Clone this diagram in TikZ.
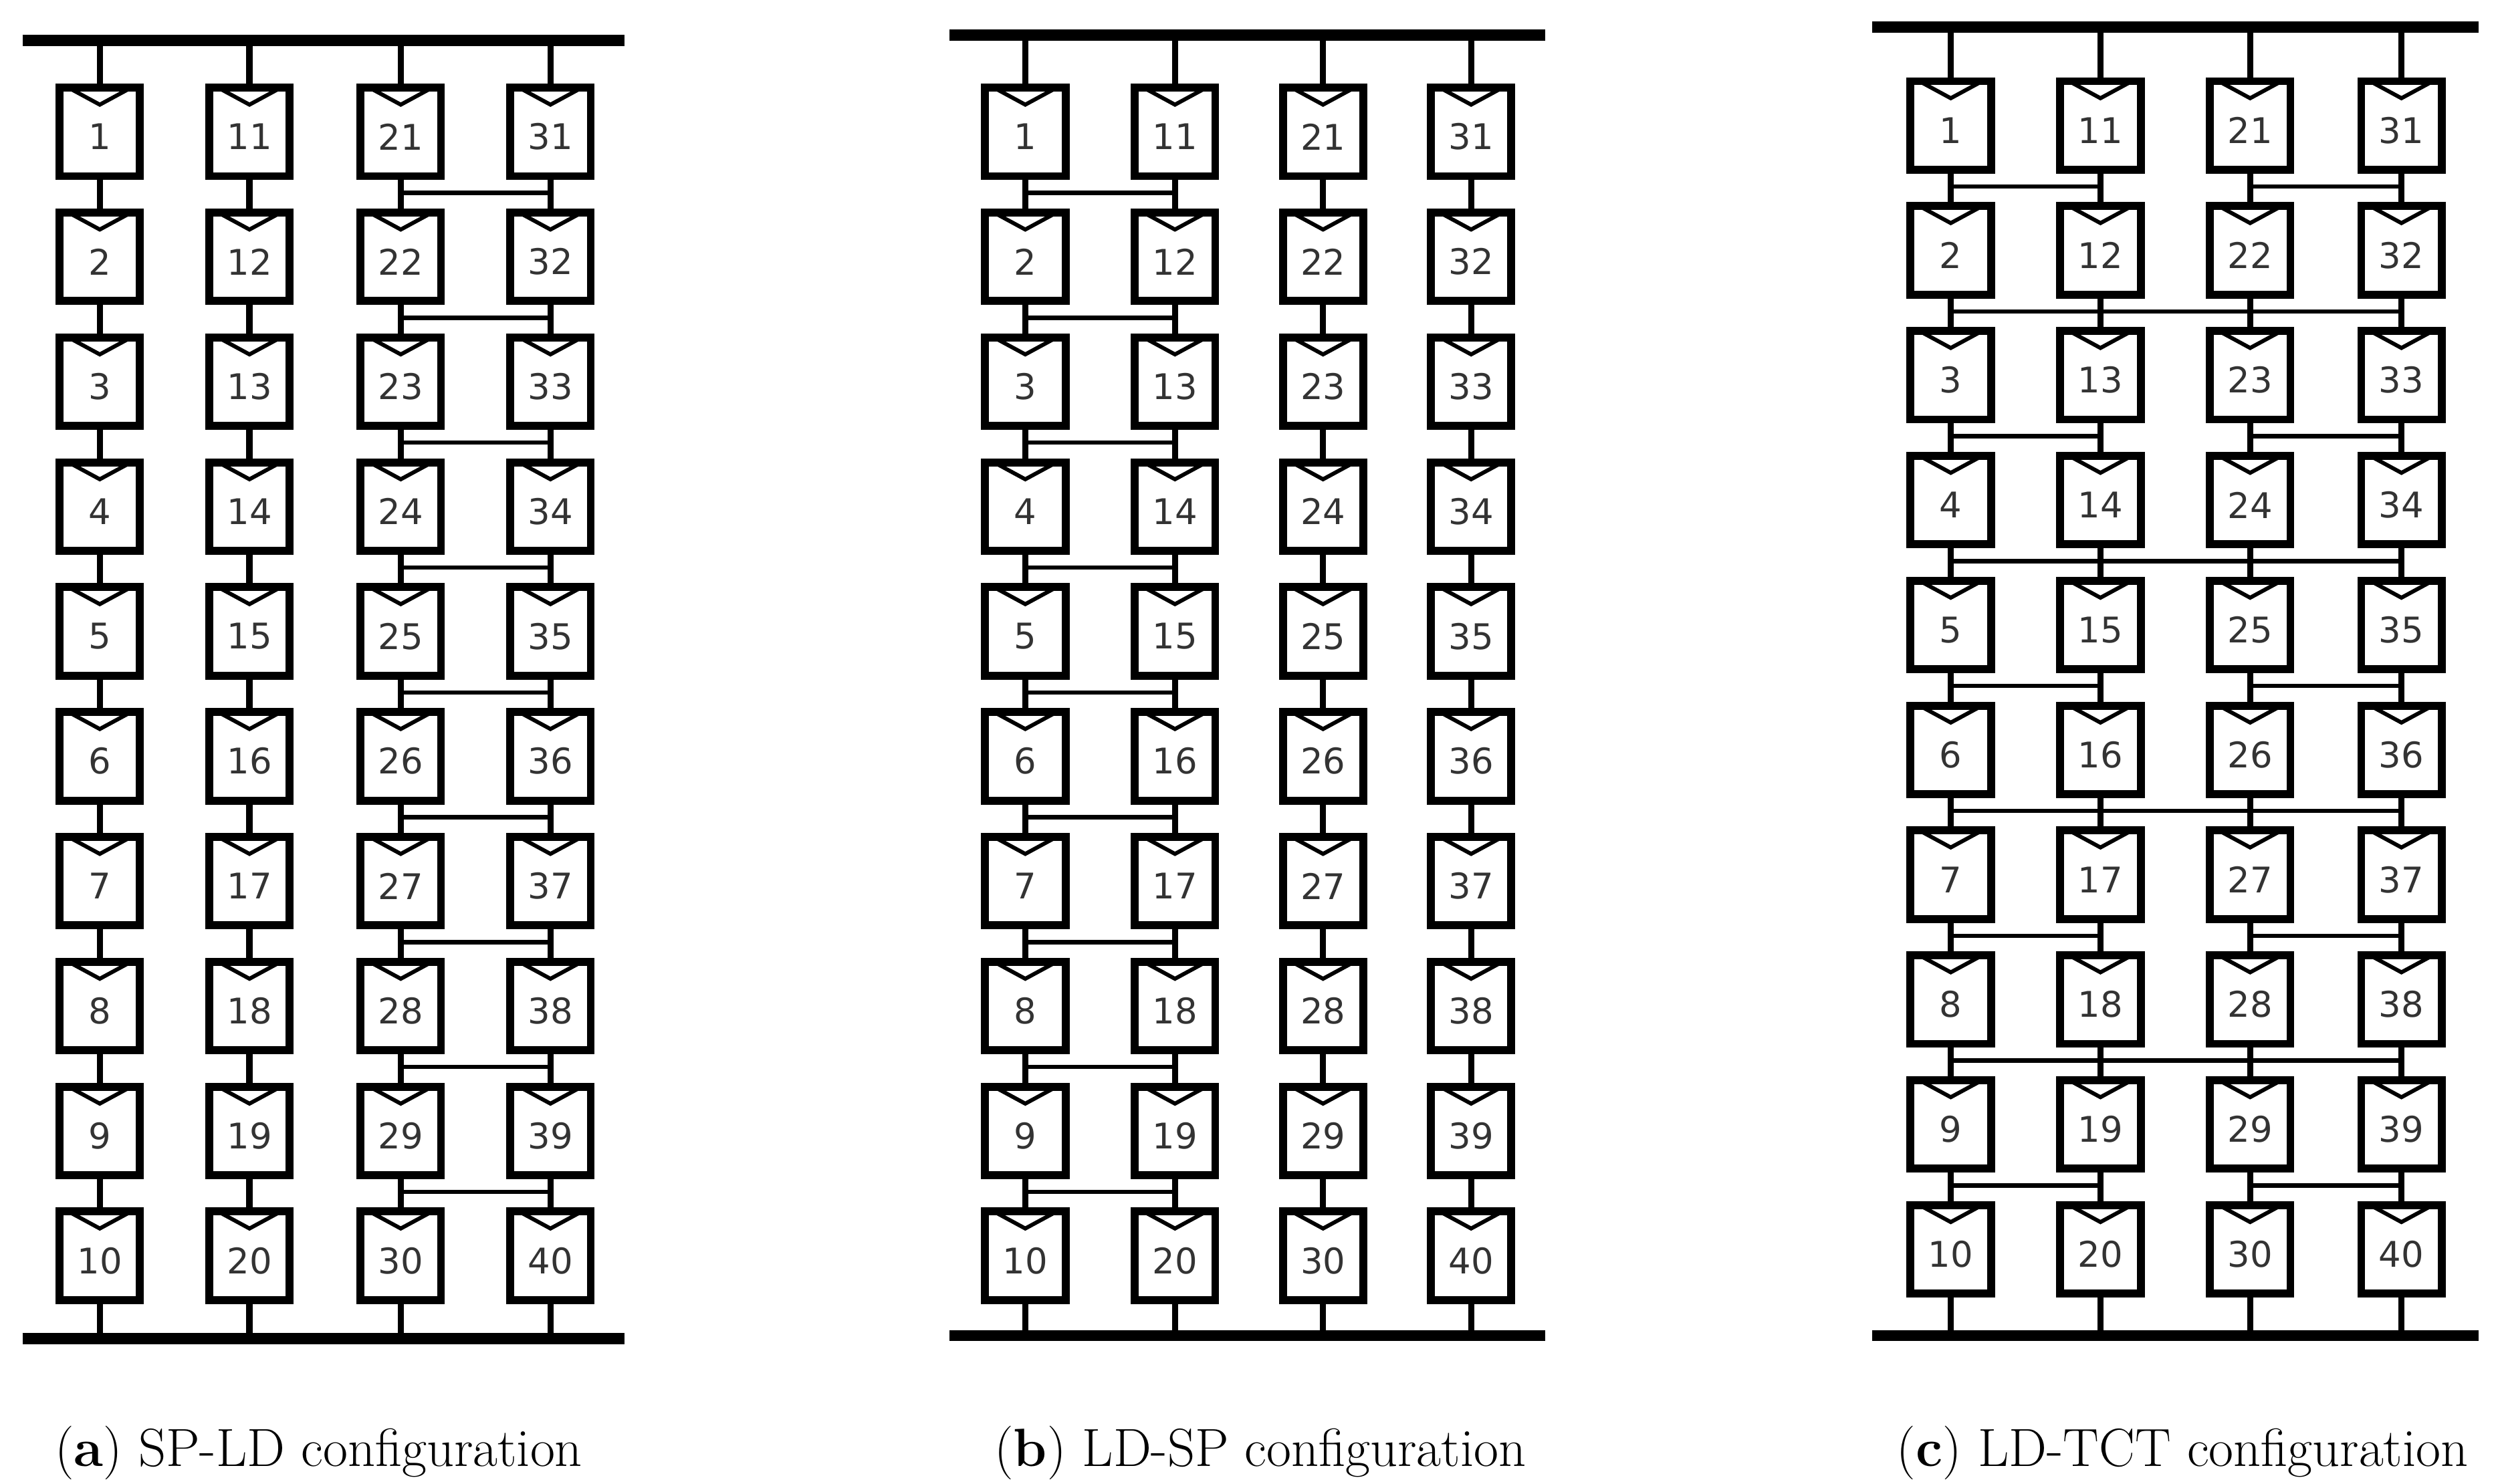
\documentclass[tikz,border=0pt]{standalone}
\usepackage{fontspec}
\newfontfamily\modfont{DejaVu Sans}
\usetikzlibrary{calc}
\tikzset{
  pv/.style={draw, line width=2.8pt, minimum width=1.0cm, minimum height=1.1cm, inner sep=0pt},
  bus/.style={line width=4pt},
  wire/.style={line width=2.2pt},
  link/.style={line width=1.5pt},
  notch/.style={line width=1.4pt},
  numtext/.style={font=\modfont\fontsize{12.5}{12.5}\selectfont, text=black!80},
  captext/.style={font=\fontsize{19}{22}\selectfont, anchor=center}
}
\newcommand{\pvmod}[4]{% name, x, y, label
  \node[pv] (#1) at (#2,#3) {};
  \node[numtext] (#1t) at ($(#1.center)+(0,3)$) {#4};
  \draw[notch] ($(#1.north west)+(9,3)$) -- ($(#1.north)+(0,13)$) -- ($(#1.north east)+(-9,3)$);
}
\begin{document}
\begin{tikzpicture}[x=0.02cm,y=-0.02cm]
\useasboundingbox (0,0) rectangle (1552,922);
\foreach \p/\bl/\br/\ty/\by/\ca/\cb/\cc/\cd/\ry in {a/14/388/25/832/62/155/249/342/82, b/590/960/22/830/637/730/822/914/82, c/1163/1540/17/830/1212/1305/1398/1492/78}{
  \coordinate (\p TL) at (\bl,\ty); \coordinate (\p TR) at (\br,\ty);
  \coordinate (\p BL) at (\bl,\by); \coordinate (\p BR) at (\br,\by);
  \draw[bus] (\p TL) -- (\p TR);
  \draw[bus] (\p BL) -- (\p BR);
  \foreach \cx [count=\ci from 0] in {\ca,\cb,\cc,\cd}{
    \coordinate (\p top\ci) at (\cx,\ty);
    \coordinate (\p bot\ci) at (\cx,\by);
    \foreach \r in {1,...,10}{
      \pgfmathtruncatemacro{\lab}{\ci*10+\r}
      \pgfmathsetmacro{\yy}{\ry+77.6*(\r-1)}
      \pvmod{\p\lab}{\cx}{\yy}{\lab}
    }
    \pgfmathtruncatemacro{\first}{\ci*10+1}
    \pgfmathtruncatemacro{\last}{\ci*10+10}
    \draw[wire] (\p top\ci) -- (\p\first.north);
    \draw[wire] (\p\last.south) -- (\p bot\ci);
    \foreach \r in {1,...,9}{
      \pgfmathtruncatemacro{\u}{\ci*10+\r}
      \pgfmathtruncatemacro{\v}{\ci*10+\r+1}
      \draw[wire] (\p\u.south) -- (\p\v.north);
    }
  }
}
\foreach \r in {1,...,9}{
  \pgfmathtruncatemacro{\u}{20+\r}\pgfmathtruncatemacro{\v}{20+\r+1}
  \pgfmathtruncatemacro{\s}{30+\r}\pgfmathtruncatemacro{\t}{30+\r+1}
  \draw[link] ($(a\u.south)!0.45!(a\v.north)$) -- ($(a\s.south)!0.45!(a\t.north)$);
}
\foreach \r in {1,...,9}{
  \pgfmathtruncatemacro{\v}{\r+1}
  \pgfmathtruncatemacro{\s}{10+\r}\pgfmathtruncatemacro{\t}{10+\r+1}
  \draw[link] ($(b\r.south)!0.45!(b\v.north)$) -- ($(b\s.south)!0.45!(b\t.north)$);
}
\foreach \r in {1,3,5,7,9}{
  \pgfmathtruncatemacro{\v}{\r+1}
  \pgfmathtruncatemacro{\s}{10+\r}\pgfmathtruncatemacro{\t}{10+\r+1}
  \pgfmathtruncatemacro{\m}{20+\r}\pgfmathtruncatemacro{\n}{20+\r+1}
  \pgfmathtruncatemacro{\o}{30+\r}\pgfmathtruncatemacro{\q}{30+\r+1}
  \draw[link] ($(c\r.south)!0.45!(c\v.north)$) -- ($(c\s.south)!0.45!(c\t.north)$);
  \draw[link] ($(c\m.south)!0.45!(c\n.north)$) -- ($(c\o.south)!0.45!(c\q.north)$);
}
\foreach \r in {2,4,6,8}{
  \pgfmathtruncatemacro{\v}{\r+1}
  \pgfmathtruncatemacro{\o}{30+\r}\pgfmathtruncatemacro{\q}{30+\r+1}
  \draw[link] ($(c\r.south)!0.45!(c\v.north)$) -- ($(c\o.south)!0.45!(c\q.north)$);
}
\node[captext] (capa) at (198,903) {(\textbf{a}) SP-LD configuration};
\node[captext] (capb) at (783,903) {(\textbf{b}) LD-SP configuration};
\node[captext] (capc) at (1356,903) {(\textbf{c}) LD-TCT configuration};
\end{tikzpicture}
\end{document}
